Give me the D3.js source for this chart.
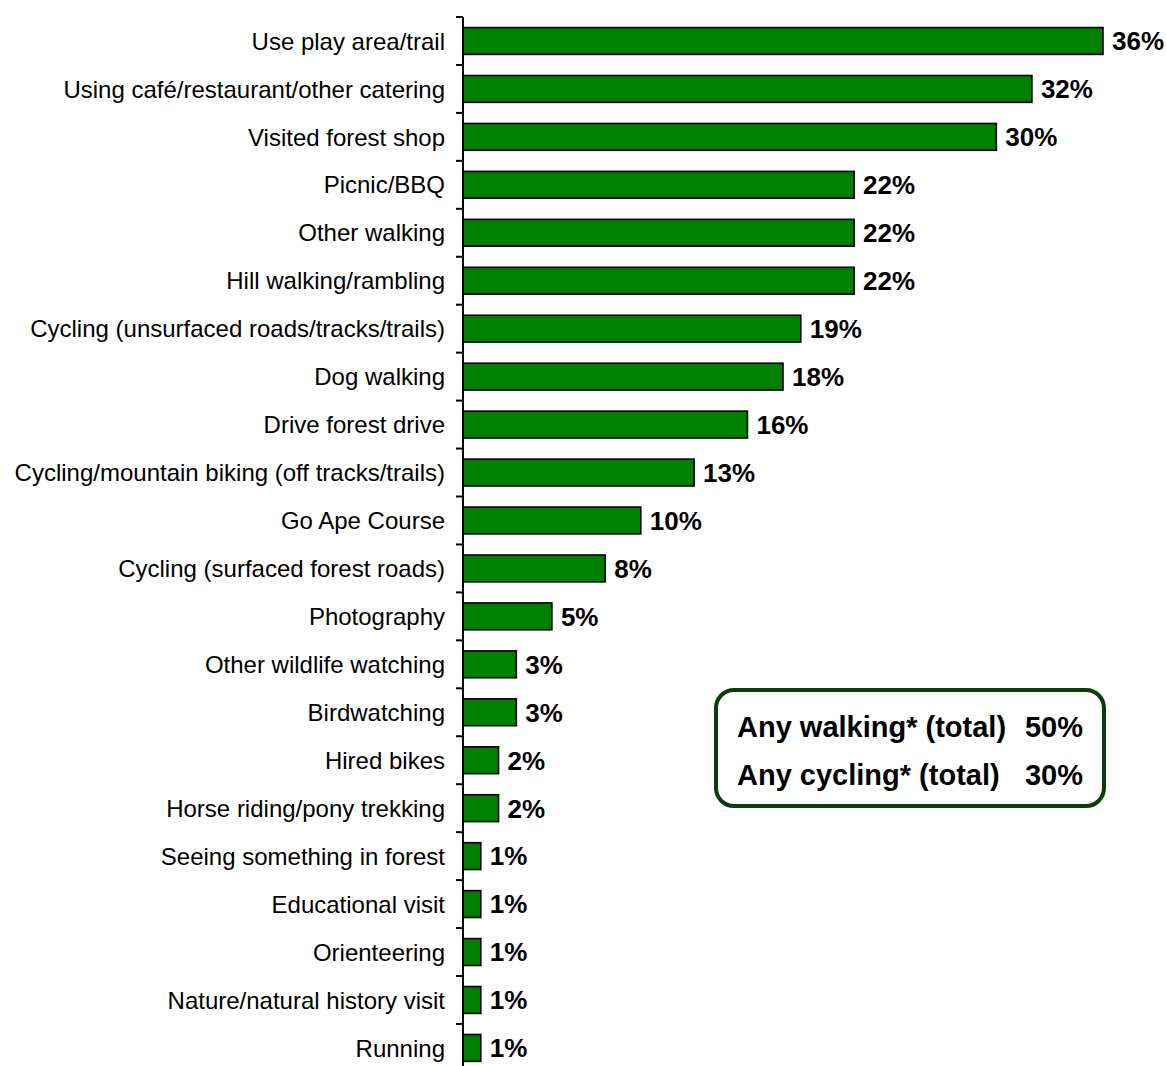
<!DOCTYPE html>
<html>
<head>
<meta charset="utf-8">
<script src="https://cdn.jsdelivr.net/npm/d3@7"></script>
<style>
  body { margin: 0; background: #fff; }
  svg { display: block; font-family: "Liberation Sans", Arial, sans-serif; }
</style>
</head>
<body>
<div id="chart"></div>
<script>
// activities, top to bottom
var activities = [
	"Use play area/trail",
	"Using café/restaurant/other catering",
	"Visited forest shop",
	"Picnic/BBQ",
	"Other walking",
	"Hill walking/rambling",
	"Cycling (unsurfaced roads/tracks/trails)",
	"Dog walking",
	"Drive forest drive",
	"Cycling/mountain biking (off tracks/trails)",
	"Go Ape Course",
	"Cycling (surfaced forest roads)",
	"Photography",
	"Other wildlife watching",
	"Birdwatching",
	"Hired bikes",
	"Horse riding/pony trekking",
	"Seeing something in forest",
	"Educational visit",
	"Orienteering",
	"Nature/natural history visit",
	"Running"
];
var percents = [36, 32, 30, 22, 22, 22, 19, 18, 16, 13, 10, 8, 5, 3, 3, 2, 2, 1, 1, 1, 1, 1];

var totalLabels = ["Any walking* (total)", "Any cycling* (total)"];
var totalValues = [50, 30];

var width = 1166, height = 1066;
var axisX = 463, topY = 17, step = 47.95;

var svg = d3.select("#chart").append("svg")
	.attr("width", width)
	.attr("height", height);

var xScale = d3.scaleLinear()
	.domain([0, 36])
	.range([axisX, 1103]);

var yScale = d3.scaleBand()
	.domain(activities)
	.range([topY, topY + step * activities.length])
	.paddingInner(0.44)
	.paddingOuter(0.22);

// bars
svg.selectAll("rect.bar")
	.data(activities)
	.enter()
	.append("rect")
	.classed("bar", true)
	.attr("x", xScale(0))
	.attr("y", function (d) { return yScale(d); })
	.attr("width", function (d, i) { return xScale(percents[i]) - xScale(0); })
	.attr("height", yScale.bandwidth())
	.style("fill", "#008000")
	.style("stroke", "#000")
	.style("stroke-width", 1.6);

// category axis with ticks between categories
svg.append("line")
	.attr("x1", axisX).attr("x2", axisX)
	.attr("y1", topY).attr("y2", topY + step * activities.length)
	.style("stroke", "#000")
	.style("stroke-width", 2);

svg.selectAll("line.tick")
	.data(d3.range(activities.length + 1))
	.enter()
	.append("line")
	.classed("tick", true)
	.attr("x1", axisX - 7).attr("x2", axisX)
	.attr("y1", function (i) { return topY + i * step; })
	.attr("y2", function (i) { return topY + i * step; })
	.style("stroke", "#000")
	.style("stroke-width", 2);

// category labels
svg.selectAll("text.cat")
	.data(activities)
	.enter()
	.append("text")
	.classed("cat", true)
	.attr("x", 445)
	.attr("y", function (d) { return yScale(d) + yScale.bandwidth() / 2; })
	.attr("dy", "0.36em")
	.attr("text-anchor", "end")
	.style("font-size", "24px")
	.style("fill", "#000")
	.text(function (d) { return d; });

// value labels
svg.selectAll("text.val")
	.data(activities)
	.enter()
	.append("text")
	.classed("val", true)
	.attr("x", function (d, i) { return xScale(percents[i]) + 9; })
	.attr("y", function (d) { return yScale(d) + yScale.bandwidth() / 2; })
	.attr("dy", "0.36em")
	.style("font-size", "26px")
	.style("font-weight", "bold")
	.style("fill", "#000")
	.text(function (d, i) { return percents[i] + "%"; });

// totals box
var box = svg.append("g").attr("transform", "translate(716,690)");
box.append("rect")
	.attr("width", 388)
	.attr("height", 116)
	.attr("rx", 18)
	.style("fill", "#fff")
	.style("stroke", "#0b3d0b")
	.style("stroke-width", 4);

box.selectAll("text.tl")
	.data(totalLabels)
	.enter()
	.append("text")
	.attr("x", 21)
	.attr("y", function (d, i) { return 37 + i * 48; })
	.attr("dy", "0.36em")
	.style("font-size", "29px")
	.style("font-weight", "bold")
	.text(function (d) { return d; });

box.selectAll("text.tv")
	.data(totalValues)
	.enter()
	.append("text")
	.attr("x", 367)
	.attr("y", function (d, i) { return 37 + i * 48; })
	.attr("dy", "0.36em")
	.attr("text-anchor", "end")
	.style("font-size", "29px")
	.style("font-weight", "bold")
	.text(function (d) { return d + "%"; });
</script>
</body>
</html>
